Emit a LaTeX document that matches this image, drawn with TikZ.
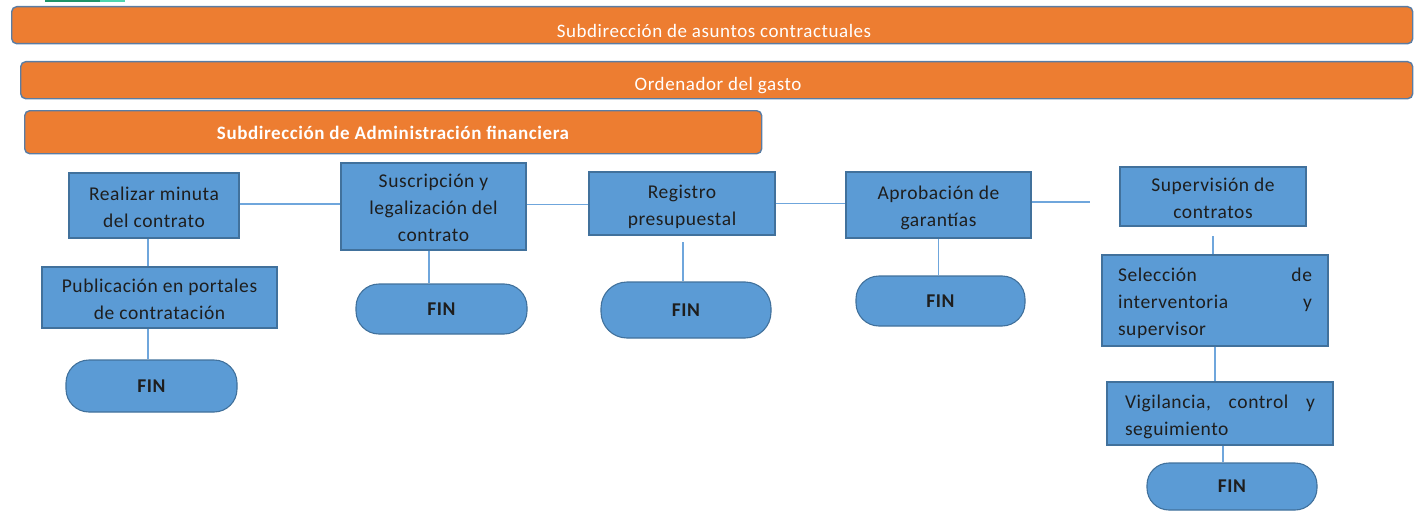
\documentclass[tikz,border=0pt]{standalone}
\usepackage{fontspec}
\setmainfont{Carlito}[LetterSpace=3]
\usetikzlibrary{calc}
\definecolor{orangefill}{HTML}{ED7D31}
\definecolor{barborder}{HTML}{5A7CA3}
\definecolor{bluefill}{HTML}{5B9BD5}
\definecolor{blueborder}{HTML}{41719C}
\definecolor{linkblue}{HTML}{6FA6DC}
\definecolor{boxtext}{HTML}{1E1E1E}
\definecolor{greenA}{HTML}{1F9467}
\definecolor{greenB}{HTML}{4FD6AE}
\newcommand{\tsx}{\rule{0pt}{21pt}}
\newcommand{\bsx}{\rule[-5pt]{0pt}{5pt}}
\tikzset{
  bar/.style={draw=barborder, line width=1.4pt, fill=orangefill, rounded corners=5pt, anchor=north west, inner sep=0pt},
  bartext/.style={text=white, font=\fontsize{19}{24}\selectfont, inner sep=0pt},
  procbox/.style={draw=blueborder, line width=1.1pt, fill=bluefill, text=boxtext, align=center,
     font=\fontsize{19.5}{27}\selectfont, inner sep=0pt},
  finbox/.style={draw=blueborder, line width=1.1pt, fill=bluefill, text=boxtext,
     font=\bfseries\fontsize{19.5}{24}\selectfont, rounded corners=23pt, inner sep=0pt},
  link/.style={draw=linkblue, line width=1.8pt}
}
\begin{document}
\begin{tikzpicture}[x=1pt,y=-1pt]
\useasboundingbox (0,0) rectangle (1414,511);
% small green strip at top
\fill[greenA] (45,0) rectangle (100,2);
\fill[greenB] (100,0) rectangle (125,2);
% orange header bars
\node[bar, minimum width=1401pt, minimum height=37pt] (bar1) at (11,6) {};
\node[bartext] (bar1t) at (714,31) {Subdirección de asuntos contractuales};
\node[bar, minimum width=1392pt, minimum height=37pt] (bar2) at (20,61) {};
\node[bartext] (bar2t) at (718,86) {Ordenador del gasto};
\node[bar, minimum width=737pt, minimum height=43pt] (bar3) at (24,110) {};
\node[bartext, font=\bfseries\fontsize{19}{24}\selectfont] (bar3t) at (393,133) {Subdirección de Administración financiera};
% process boxes
\node[procbox, minimum width=170pt, minimum height=65pt] (real) at (154,205.5) {\tsx Realizar minuta\\del contrato\bsx};
\node[procbox, minimum width=235pt, minimum height=61pt] (pub) at (159.5,297.5) {\tsx Publicación en portales\\de contratación\bsx};
\node[procbox, minimum width=185pt, minimum height=87pt] (susc) at (433.5,206.5) {\tsx Suscripción y\\legalización del\\contrato\bsx};
\node[procbox, minimum width=186pt, minimum height=63pt] (reg) at (682,203.5) {\tsx Registro\\presupuestal\bsx};
\node[procbox, minimum width=185pt, minimum height=66pt] (aprob) at (938.5,205) {\tsx Aprobación de\\garantías\bsx};
\node[procbox, minimum width=186pt, minimum height=59pt] (sup) at (1213,196.5) {\tsx Supervisión de\\contratos\bsx};
\node[procbox, minimum width=226pt, minimum height=91pt, text width=194pt, align=left] (sel) at (1215,300.5) {\tsx Selección\hfill de\\interventoria\hfill y\\supervisor\bsx};
\node[procbox, minimum width=226pt, minimum height=63pt, text width=190pt, align=left] (vig) at (1220,413.5) {\tsx Vigilancia,\hfill control\hfill y\\seguimiento\bsx};
% FIN terminals
\node[finbox, minimum width=171pt, minimum height=52pt] (fin1) at (151.5,386) {FIN};
\node[finbox, minimum width=171pt, minimum height=50pt] (fin2) at (441.5,309) {FIN};
\node[finbox, minimum width=170pt, minimum height=56pt, rounded corners=26pt] (fin3) at (686,310) {FIN};
\node[finbox, minimum width=169pt, minimum height=50pt] (fin4) at (940.5,301) {FIN};
\node[finbox, minimum width=170pt, minimum height=47pt, rounded corners=22pt] (fin5) at (1232,486.5) {FIN};
% connector anchor points
\coordinate (realR) at ([yshift=1.5pt]real.east);
\coordinate (suscR) at ([yshift=2pt]susc.east);
\coordinate (aprobR) at ([yshift=3pt]aprob.east);
\coordinate (aprobend) at (1090,202);
\coordinate (realB) at ([xshift=-6pt]real.south);
\coordinate (pubB) at ([xshift=-11.5pt]pub.south);
\coordinate (suscB) at ([xshift=-4.5pt]susc.south);
\coordinate (regstart) at (683,242);
\coordinate (supstart) at (1213,236);
\coordinate (vigB) at ([xshift=3pt]vig.south);
% connectors
\draw[link] (realR) -- (realR -| susc.west);
\draw[link] (suscR) -- (suscR -| reg.west);
\draw[link] (reg.east) -- (reg.east -| aprob.west);
\draw[link] (aprobR) -- (aprobend);
\draw[link] (realB) -- (realB |- pub.north);
\draw[link] (pubB) -- (pubB |- fin1.north);
\draw[link] (suscB) -- (suscB |- fin2.north);
\draw[link] (regstart) -- (regstart |- fin3.north);
\draw[link] (aprob.south) -- (aprob.south |- fin4.north);
\draw[link] (supstart) -- (supstart |- sel.north);
\draw[link] (sel.south) -- (sel.south |- vig.north);
\draw[link] (vigB) -- (vigB |- fin5.north);
\end{tikzpicture}
\end{document}
